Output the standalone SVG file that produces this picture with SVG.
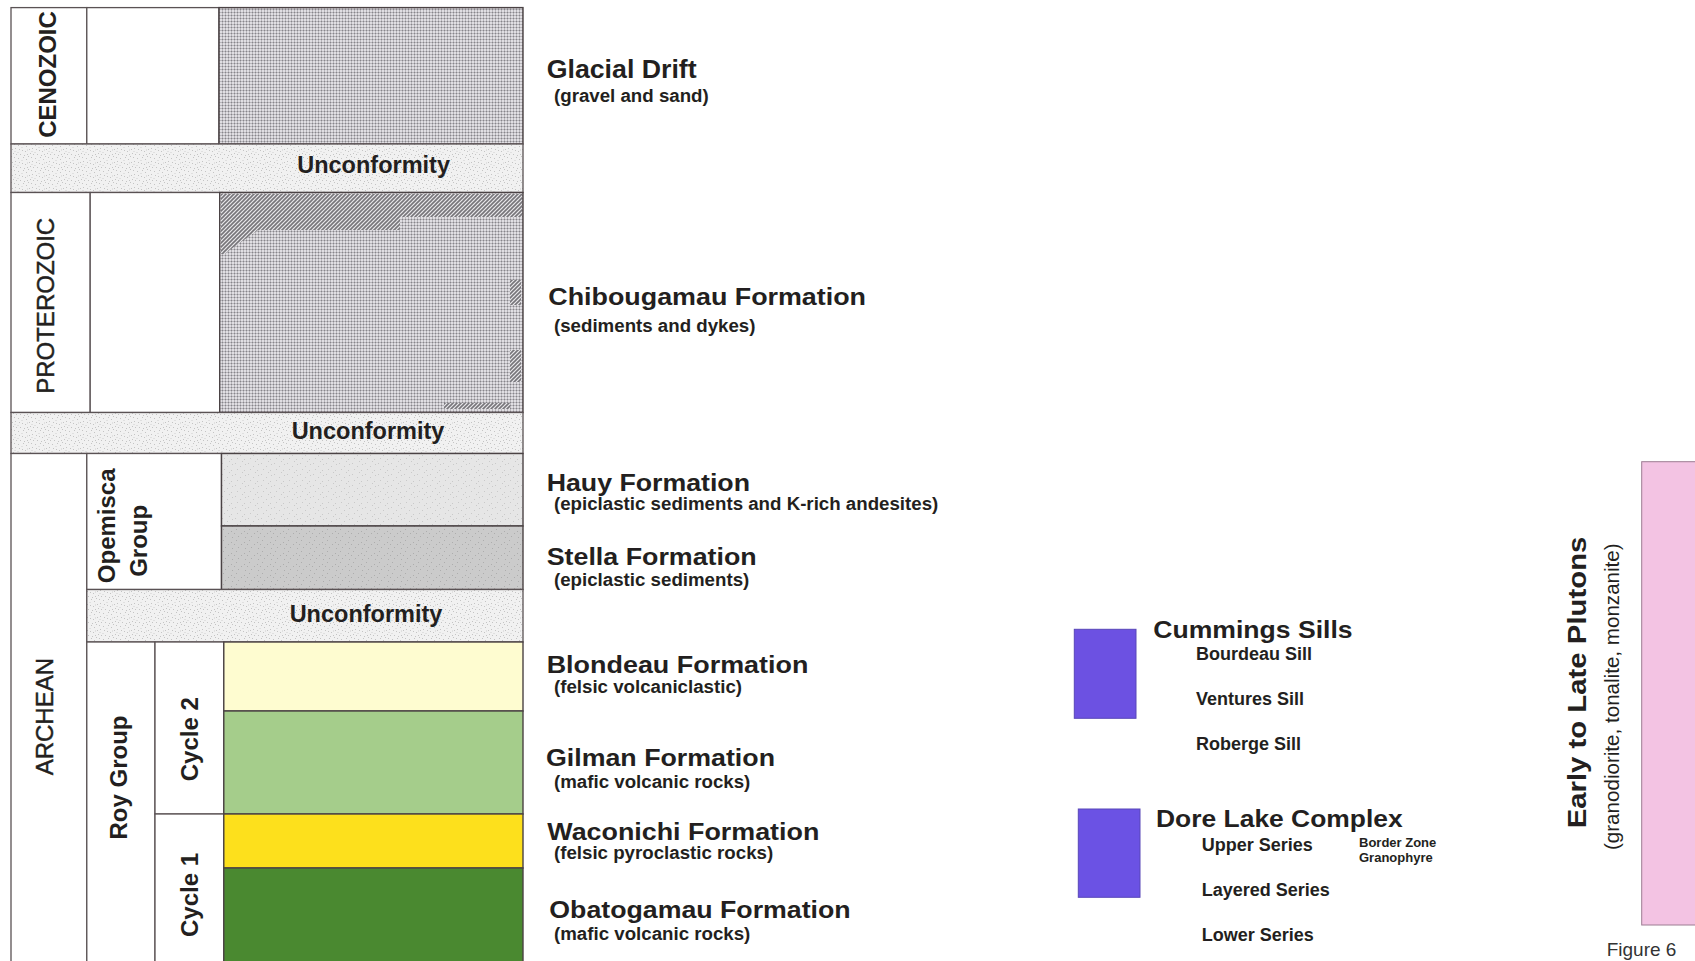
<svg xmlns="http://www.w3.org/2000/svg" width="1695" height="961" viewBox="0 0 1695 961">
<defs>
<pattern id="drift" width="3" height="3" patternUnits="userSpaceOnUse">
<rect width="3" height="3" fill="#e0dee2"/>
<rect width="3" height="1" fill="#b8b6bb"/>
<rect width="1" height="3" fill="#b8b6bb"/>
<rect width="1" height="1" fill="#87858a"/>
</pattern>
<pattern id="hatch" width="4" height="4" patternUnits="userSpaceOnUse">
<rect width="4" height="4" fill="#e8e7ea"/>
<path d="M-1,5 L5,-1 M-1,1 L1,-1 M3,5 L5,3" stroke="#77757a" stroke-width="1.6"/>
</pattern>
<pattern id="speck" width="17" height="13" patternUnits="userSpaceOnUse">
<rect width="17" height="13" fill="#f1f1f1"/>
<g fill="#c4c4c4">
<rect x="1" y="2" width="1" height="1"/><rect x="5" y="7" width="1" height="1"/><rect x="9" y="3" width="1" height="1"/>
<rect x="13" y="10" width="1" height="1"/><rect x="15" y="5" width="1" height="1"/><rect x="3" y="11" width="1" height="1"/>
<rect x="11" y="0" width="1" height="1"/><rect x="7" y="12" width="1" height="1"/><rect x="14" y="1" width="1" height="1"/>
<rect x="2" y="6" width="1" height="1"/><rect x="8" y="8" width="1" height="1"/><rect x="12" y="6" width="1" height="1"/>
<rect x="16" y="11" width="1" height="1"/><rect x="6" y="1" width="1" height="1"/><rect x="10" y="11" width="1" height="1"/>
</g>
<g fill="#e0e0e0">
<rect x="0" y="9" width="2" height="1"/><rect x="4" y="4" width="2" height="1"/><rect x="10" y="6" width="1" height="2"/><rect x="14" y="8" width="2" height="1"/>
</g>
</pattern>
<pattern id="hauy" width="13" height="11" patternUnits="userSpaceOnUse">
<rect width="13" height="11" fill="#e6e6e6"/>
<g fill="#c9c9c9">
<rect x="1" y="1" width="1" height="1"/><rect x="6" y="4" width="1" height="1"/><rect x="10" y="8" width="1" height="1"/>
<rect x="3" y="7" width="1" height="1"/><rect x="11" y="2" width="1" height="1"/><rect x="8" y="10" width="1" height="1"/>
</g>
</pattern>
<pattern id="stella" width="13" height="11" patternUnits="userSpaceOnUse">
<rect width="13" height="11" fill="#cbcbcb"/>
<g fill="#adadad">
<rect x="2" y="1" width="1" height="1"/><rect x="7" y="5" width="1" height="1"/><rect x="11" y="9" width="1" height="1"/>
<rect x="4" y="8" width="1" height="1"/><rect x="10" y="3" width="1" height="1"/><rect x="0" y="5" width="1" height="1"/>
</g>
</pattern>
</defs>
<style>
.cell{fill:#ffffff;stroke:#5a5254;stroke-width:1.3}
.unc{fill:url(#speck);stroke:#5a5254;stroke-width:1.3}
.lay{stroke:#4a4244;stroke-width:1.4}
.t{font-family:"Liberation Sans",Arial,sans-serif;font-weight:bold;fill:#231f20}
.n{font-weight:normal;stroke:#231f20;stroke-width:0.45}
.u{font-size:23.5px}
.era{font-size:24px}
.ti{font-size:24px}
.su{font-size:18.7px}
.sm{font-size:18px}
.xs{font-size:13px}
</style>
<rect width="1695" height="961" fill="#ffffff"/>

<g id="cenozoic">
<rect class="cell" x="11" y="7.6" width="75.8" height="136.4"/>
<rect class="cell" x="86.8" y="7.6" width="132.2" height="136.4"/>
<rect class="lay" x="219" y="7.6" width="304" height="136.4" fill="url(#drift)"/>
<text class="t era" transform="translate(55.5,74.5) rotate(-90)" text-anchor="middle">CENOZOIC</text>
</g>

<g id="unconformity1">
<rect class="unc" x="11" y="144" width="512" height="48.5"/>
<text class="t u" x="373.6" y="173.3" text-anchor="middle">Unconformity</text>
</g>

<g id="proterozoic">
<rect class="cell" x="11" y="192.5" width="79.2" height="220"/>
<rect class="cell" x="90.2" y="192.5" width="129.5" height="220"/>
<rect class="lay" x="219.7" y="192.5" width="303.3" height="220" fill="url(#drift)"/>
<polygon points="221,194 522,194 522,217 400,217 400,230 258,230 224,254 221,254" fill="url(#hatch)"/>
<rect x="510" y="280" width="11" height="25" fill="url(#hatch)"/>
<rect x="510" y="350" width="11" height="32" fill="url(#hatch)"/>
<rect x="444" y="403" width="66" height="6" fill="url(#hatch)"/>
<text class="t era n" transform="translate(54.4,305.8) rotate(-90)" text-anchor="middle">PROTEROZOIC</text>
</g>

<g id="unconformity2">
<rect class="unc" x="11" y="412.5" width="512" height="41"/>
<text class="t u" x="368" y="439.3" text-anchor="middle">Unconformity</text>
</g>

<g id="archean">
<rect class="cell" x="11" y="453.5" width="75.8" height="512"/>
<text class="t era n" transform="translate(53.4,716.7) rotate(-90)" text-anchor="middle">ARCHEAN</text>
</g>

<g id="opemisca-group">
<rect class="cell" x="86.8" y="453.5" width="134.7" height="136"/>
<text class="t era" transform="translate(115.4,525.8) rotate(-90)" text-anchor="middle">Opemisca</text>
<text class="t era" transform="translate(147,540.8) rotate(-90)" text-anchor="middle">Group</text>
</g>

<g id="hauy">
<rect class="lay" x="221.5" y="453.5" width="301.5" height="72.5" fill="url(#hauy)"/>
</g>
<g id="stella">
<rect class="lay" x="221.5" y="526" width="301.5" height="63.5" fill="url(#stella)"/>
</g>

<g id="unconformity3">
<rect class="unc" x="86.8" y="589.5" width="436.2" height="52.5"/>
<text class="t u" x="366" y="621.7" text-anchor="middle">Unconformity</text>
</g>

<g id="roy-group">
<rect class="cell" x="86.8" y="642" width="68.2" height="323"/>
<text class="t era" transform="translate(127,777.5) rotate(-90)" text-anchor="middle">Roy Group</text>
</g>

<g id="cycle2">
<rect class="cell" x="155" y="642" width="68.8" height="172"/>
<text class="t era" transform="translate(198,739.2) rotate(-90)" text-anchor="middle">Cycle 2</text>
</g>
<g id="cycle1">
<rect class="cell" x="155" y="814" width="68.8" height="151"/>
<text class="t era" transform="translate(198,895) rotate(-90)" text-anchor="middle">Cycle 1</text>
</g>

<g id="blondeau"><rect class="lay" x="223.8" y="642" width="299.2" height="69" fill="#fefcd0"/></g>
<g id="gilman"><rect class="lay" x="223.8" y="711" width="299.2" height="103" fill="#a5cd8b"/></g>
<g id="waconichi"><rect class="lay" x="223.8" y="814" width="299.2" height="54" fill="#fde01c"/></g>
<g id="obatogamau"><rect class="lay" x="223.8" y="868" width="299.2" height="97" fill="#4a8930"/></g>

<g id="labels">
<text class="t ti" x="546.7" y="78.3" textLength="150" lengthAdjust="spacingAndGlyphs" style="font-size:25.5px">Glacial Drift</text>
<text class="t su" x="554" y="101.7">(gravel and sand)</text>
<text class="t ti" x="548.3" y="305" textLength="317.7" lengthAdjust="spacingAndGlyphs">Chibougamau Formation</text>
<text class="t su" x="554" y="331.7">(sediments and dykes)</text>
<text class="t ti" x="546.7" y="490.7" textLength="203.3" lengthAdjust="spacingAndGlyphs">Hauy Formation</text>
<text class="t su" x="554" y="510">(epiclastic sediments and K-rich andesites)</text>
<text class="t ti" x="546.7" y="565" textLength="210" lengthAdjust="spacingAndGlyphs">Stella Formation</text>
<text class="t su" x="554" y="585.7">(epiclastic sediments)</text>
<text class="t ti" x="546.7" y="673.3" textLength="261.7" lengthAdjust="spacingAndGlyphs">Blondeau Formation</text>
<text class="t su" x="554" y="693.3">(felsic volcaniclastic)</text>
<text class="t ti" x="546" y="766" textLength="229" lengthAdjust="spacingAndGlyphs">Gilman Formation</text>
<text class="t su" x="554" y="788.3">(mafic volcanic rocks)</text>
<text class="t ti" x="547.3" y="840" textLength="272" lengthAdjust="spacingAndGlyphs">Waconichi Formation</text>
<text class="t su" x="554" y="859">(felsic pyroclastic rocks)</text>
<text class="t ti" x="549.3" y="917.7" textLength="301.3" lengthAdjust="spacingAndGlyphs">Obatogamau Formation</text>
<text class="t su" x="554" y="940">(mafic volcanic rocks)</text>
</g>

<g id="cummings-sills">
<rect x="1074.3" y="629.3" width="61.7" height="89" fill="#6c51e2" stroke="#5846b8" stroke-width="1"/>
<text class="t ti" x="1153.3" y="638.3" textLength="199.3" lengthAdjust="spacingAndGlyphs">Cummings Sills</text>
<text class="t sm" x="1196" y="660">Bourdeau Sill</text>
<text class="t sm" x="1196" y="705.3">Ventures Sill</text>
<text class="t sm" x="1196" y="750.3">Roberge Sill</text>
</g>

<g id="dore-lake-complex">
<rect x="1078.3" y="809" width="61.7" height="88.3" fill="#6b52e4" stroke="#5846b8" stroke-width="1"/>
<text class="t ti" x="1156" y="826.7" textLength="246.7" lengthAdjust="spacingAndGlyphs">Dore Lake Complex</text>
<text class="t sm" x="1201.7" y="850.7">Upper Series</text>
<text class="t sm" x="1201.7" y="896">Layered Series</text>
<text class="t sm" x="1201.7" y="940.7">Lower Series</text>
<text class="t xs" x="1359" y="846.7">Border Zone</text>
<text class="t xs" x="1359" y="861.7">Granophyre</text>
</g>

<g id="plutons">
<rect x="1641.7" y="461.7" width="60" height="463.3" fill="#f3c3e3" stroke="#9c7c92" stroke-width="1"/>
<text class="t" style="font-size:26px" transform="translate(1586,682.5) rotate(-90)" text-anchor="middle" textLength="291.7" lengthAdjust="spacingAndGlyphs">Early to Late Plutons</text>
<text class="t" style="font-size:20px;font-weight:normal" transform="translate(1618.5,696.7) rotate(-90)" text-anchor="middle" textLength="306.7" lengthAdjust="spacingAndGlyphs">(granodiorite, tonalite, monzanite)</text>
</g>

<g id="caption">
<text class="t" style="font-size:19px;font-weight:normal;fill:#333333" x="1606.7" y="956">Figure 6</text>
</g>
</svg>
